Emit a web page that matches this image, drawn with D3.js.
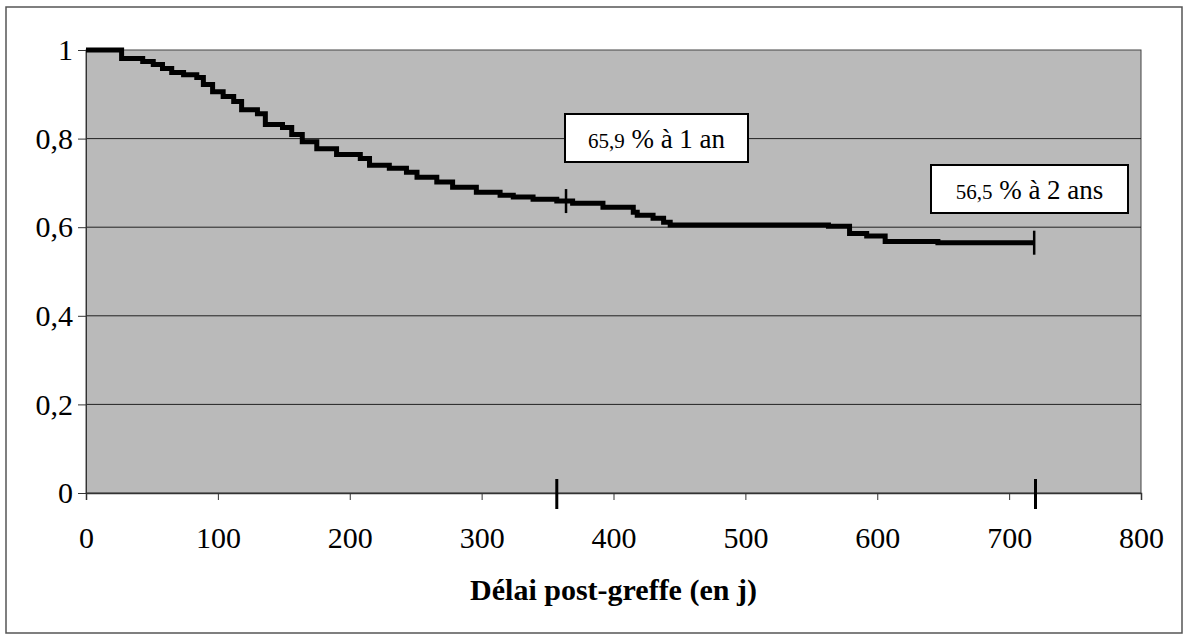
<!DOCTYPE html>
<html lang="fr">

<head>
  <meta charset="utf-8">
  <title>Survie post-greffe</title>
  <script src="https://d3js.org/d3.v7.min.js"></script>
  <style>
    body { margin: 0; background: #fff; }
    svg text { font-family: Liberation Serif, serif; fill: #000; }
  </style>
</head>

<body>
  <script>
    // courbe de survie (Kaplan-Meier)
    var jours = [0, 27, 43, 51, 58, 65, 74, 84, 89, 96, 104, 112, 118, 130, 136, 149, 156, 164, 175, 190, 208, 215,
      230, 243, 251, 266, 278, 296, 314, 324, 339, 357, 369, 392, 415, 418, 430, 438, 443, 563, 579, 592, 606, 646, 719];
    var survie = [1, 0.981, 0.974, 0.967, 0.958, 0.949, 0.944, 0.938, 0.922, 0.906, 0.895, 0.884, 0.865, 0.856, 0.832, 0.825, 0.809, 0.793, 0.777, 0.764, 0.755, 0.740,
      0.733, 0.724, 0.713, 0.702, 0.690, 0.679, 0.672, 0.668, 0.663, 0.659, 0.654, 0.645, 0.634, 0.627, 0.620, 0.611, 0.605, 0.602, 0.586, 0.580, 0.568, 0.565, 0.565];
    var censures = [364, 719];        // petites barres sur la courbe
    var reperesAxe = [357, 720];      // barres sur l'axe des x
    var xTicks = [0, 100, 200, 300, 400, 500, 600, 700, 800];
    var yTicks = [0, 0.2, 0.4, 0.6, 0.8, 1];
    var notesValeur = ['65,9', '56,5'];
    var notesTexte = [' % à 1 an', ' % à 2 ans'];

    var serif = 'Liberation Serif, serif';
    var W = 1186, H = 635;
    var svg = d3.select('body').append('svg')
      .attr('width', W)
      .attr('height', H);

    // cadre extérieur
    svg.append('rect')
      .attr('x', 6).attr('y', 7)
      .attr('width', 1176).attr('height', 626)
      .attr('fill', '#fff')
      .attr('stroke', '#555')
      .attr('stroke-width', 1.5);

    var x = d3.scaleLinear().domain([0, 800]).range([86, 1141]);
    var y = d3.scaleLinear().domain([0, 1]).range([493, 50]);

    // zone de tracé grise
    svg.append('rect')
      .attr('x', x(0)).attr('y', y(1))
      .attr('width', x(800) - x(0)).attr('height', y(0) - y(1))
      .attr('fill', '#bababa')
      .attr('stroke', '#444')
      .attr('stroke-width', 1);

    // grille horizontale
    svg.selectAll('.grid')
      .data(yTicks.filter(function(d){return d > 0 && d < 1;}))
    .enter().append('line')
      .attr('class', 'grid')
      .attr('x1', x(0)).attr('x2', x(800))
      .attr('y1', function(d){return y(d);})
      .attr('y2', function(d){return y(d);})
      .attr('stroke', '#222')
      .attr('stroke-width', 1);

    var virgule = function(d){ return String(d).replace('.', ','); };

    var axeY = d3.axisLeft(y).tickValues(yTicks).tickSize(8).tickFormat(virgule);
    var gy = svg.append('g')
      .attr('transform', 'translate(' + x(0) + ',0)')
      .call(axeY)
      .attr('font-family', serif);
    gy.select('.domain').attr('stroke', '#333');
    gy.selectAll('.tick line').attr('stroke', '#333');
    gy.selectAll('.tick text')
      .attr('x', -13)
      .style('font-family', serif)
      .style('font-size', '30px')
      .attr('fill', '#000');

    var axeX = d3.axisBottom(x).tickValues(xTicks).tickSize(7).tickFormat(d3.format('d'));
    var gx = svg.append('g')
      .attr('transform', 'translate(0,' + y(0) + ')')
      .call(axeX)
      .attr('font-family', serif);
    gx.select('.domain').attr('stroke', '#333').attr('stroke-width', 1.5);
    gx.selectAll('.tick line').attr('stroke', '#333');
    gx.selectAll('.tick text')
      .attr('y', 0)
      .attr('dy', 0)
      .attr('transform', 'translate(0,55)')
      .style('font-family', serif)
      .style('font-size', '30px')
      .attr('fill', '#000');

    // repères sur l'axe des x
    svg.selectAll('.repere')
      .data(reperesAxe)
    .enter().append('line')
      .attr('class', 'repere')
      .attr('x1', function(d){return x(d);})
      .attr('x2', function(d){return x(d);})
      .attr('y1', y(0) - 14).attr('y2', y(0) + 16)
      .attr('stroke', '#000')
      .attr('stroke-width', 3);

    // courbe en escalier
    var pts = jours.map(function(d, i){ return [d, survie[i]]; });
    var ligne = d3.line()
      .x(function(d){return x(d[0]);})
      .y(function(d){return y(d[1]);})
      .curve(d3.curveStepAfter);
    svg.append('path')
      .datum(pts)
      .attr('d', ligne)
      .attr('fill', 'none')
      .attr('stroke', '#000')
      .attr('stroke-width', 5)
      .attr('stroke-linejoin', 'miter');

    // censures
    var survieA = function(t) {
      var i = d3.bisectRight(jours, t) - 1;
      return survie[Math.max(0, i)];
    };
    svg.selectAll('.censure')
      .data(censures)
    .enter().append('line')
      .attr('class', 'censure')
      .attr('x1', function(d){return x(d);})
      .attr('x2', function(d){return x(d);})
      .attr('y1', function(d){return y(survieA(d)) - 12;})
      .attr('y2', function(d){return y(survieA(d)) + 12;})
      .attr('stroke', '#000')
      .attr('stroke-width', 2.5);

    // encadrés
    var boites = [
      { x: 565, y: 114, w: 183, h: 48 },
      { x: 931, y: 165, w: 197, h: 48 }
    ];
    var g = svg.selectAll('.note')
      .data(boites)
    .enter().append('g')
      .attr('class', 'note');
    g.append('rect')
      .attr('x', function(d){return d.x;})
      .attr('y', function(d){return d.y;})
      .attr('width', function(d){return d.w;})
      .attr('height', function(d){return d.h;})
      .attr('fill', '#fff')
      .attr('stroke', '#000')
      .attr('stroke-width', 2);
    var t = g.append('text')
      .attr('x', function(d){return d.x + d.w / 2;})
      .attr('y', function(d){return d.y + 34;})
      .attr('text-anchor', 'middle')
      .style('font-family', serif);
    t.append('tspan')
      .style('font-size', '21px')
      .text(function(d, i){return notesValeur[i];});
    t.append('tspan')
      .style('font-size', '27px')
      .text(function(d, i){return notesTexte[i];});

    // titre de l'axe
    svg.append('text')
      .attr('x', (x(0) + x(800)) / 2)
      .attr('y', 600)
      .attr('text-anchor', 'middle')
      .style('font-family', serif)
      .style('font-size', '30px')
      .style('font-weight', 'bold')
      .text('Délai post-greffe (en j)');
  </script>
</body>

</html>
